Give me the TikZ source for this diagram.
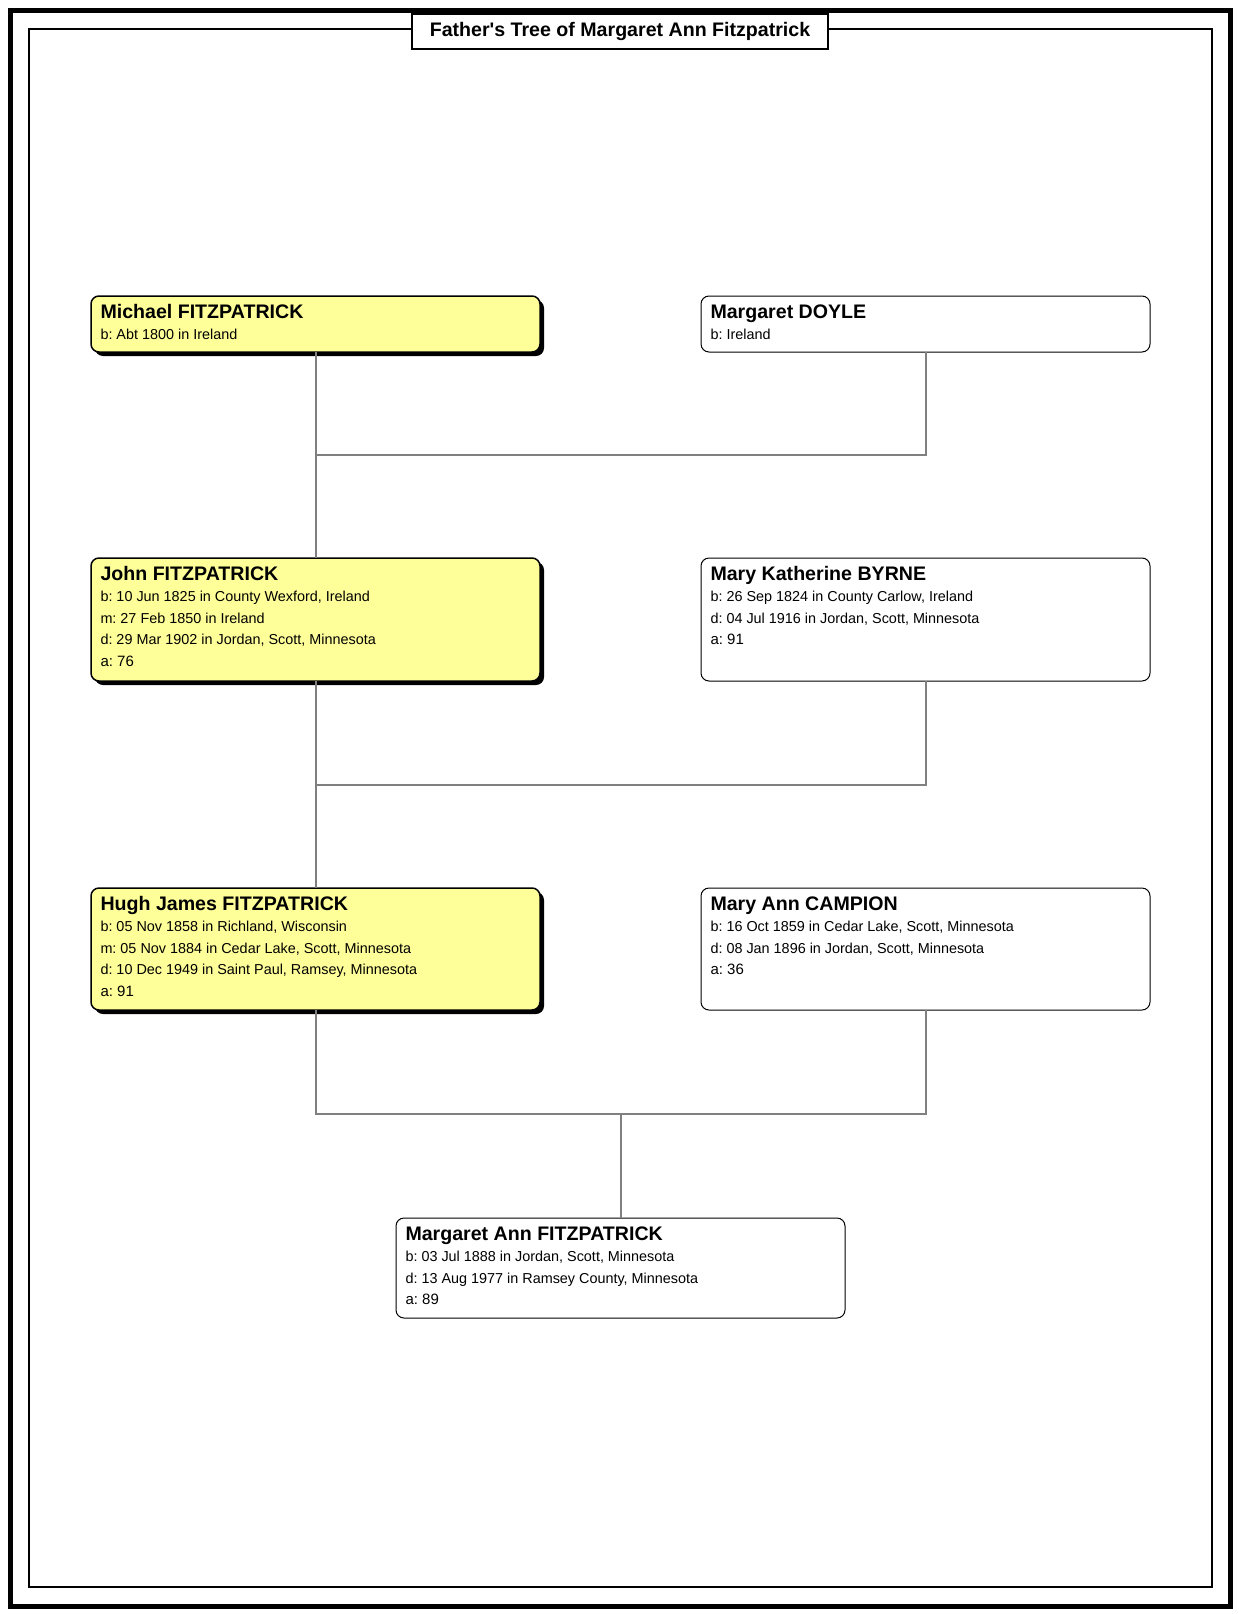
\documentclass[tikz,border=0pt]{standalone}
\usepackage{fontspec}
\setmainfont{Liberation Sans}
\usetikzlibrary{calc,positioning,shadows}

\definecolor{ftyellow}{RGB}{255,255,153}
\definecolor{ftgray}{RGB}{128,128,128}

\newcommand{\namefont}{\fontsize{19.6}{22}\selectfont\bfseries}
\newcommand{\factfont}{\fontsize{14.4}{21.5}\selectfont}
\newcommand{\agefont}{\fontsize{15}{21.5}\selectfont}
\newcommand{\age}[1]{{\agefont a: #1}}
% fixed height box: name on the first line, facts below
\newcommand{\personbox}[3]{\parbox[t][#1pt][t]{430pt}{\frenchspacing\rule{0pt}{22pt}{\namefont #2}\\\factfont #3}}

\begin{document}
\begin{tikzpicture}[x=1pt, y=-1pt]
    \tikzstyle{person} = [draw, rectangle, rounded corners=8pt, inner xsep=9.5pt, inner ysep=0pt, outer sep=0pt, line width=1pt]
    \tikzstyle{father} = [person, fill=ftyellow, line width=1.5pt, drop shadow={shadow xshift=4pt, shadow yshift=-4pt, fill=black, opacity=1}]
    \tikzstyle{mother} = [person, fill=white]
    \tikzstyle{link} = [draw=ftgray, line width=2pt]

    \useasboundingbox[fill=white] (0,0) rectangle (1239,1614);
    \draw[line width=5pt] (10.5,10.5) rectangle (1230.5,1606.5);
    \draw[line width=2pt] (29,29) rectangle (1212,1587);
    \node[draw, fill=white, line width=2pt, minimum width=416pt, minimum height=35pt, inner sep=0pt] (title) at (620,31.5) {\namefont Father\textquotesingle s Tree of Margaret Ann Fitzpatrick};

    \node[father, anchor=north west] (michael) at (91,296) {\personbox{56}{Michael FITZPATRICK}{b: Abt 1800 in Ireland}};
    \node[mother, right=161pt of michael] (doyle) {\personbox{56}{Margaret DOYLE}{b: Ireland}};

    \node[father, below=206pt of michael] (john) {\personbox{123}{John FITZPATRICK}{b: 10 Jun 1825 in County Wexford, Ireland\\m: 27 Feb 1850 in Ireland\\d: 29 Mar 1902 in Jordan, Scott, Minnesota\\\age{76}}};
    \node[mother, right=161pt of john] (byrne) {\personbox{123}{Mary Katherine BYRNE}{b: 26 Sep 1824 in County Carlow, Ireland\\d: 04 Jul 1916 in Jordan, Scott, Minnesota\\\age{91}}};

    \node[father, below=207pt of john] (hugh) {\personbox{122}{Hugh James FITZPATRICK}{b: 05 Nov 1858 in Richland, Wisconsin\\m: 05 Nov 1884 in Cedar Lake, Scott, Minnesota\\d: 10 Dec 1949 in Saint Paul, Ramsey, Minnesota\\\age{91}}};
    \node[mother, right=161pt of hugh] (campion) {\personbox{122}{Mary Ann CAMPION}{b: 16 Oct 1859 in Cedar Lake, Scott, Minnesota\\d: 08 Jan 1896 in Jordan, Scott, Minnesota\\\age{36}}};

    \coordinate (couple3) at ($(hugh.south)!0.5!(campion.south)$);
    \node[mother, below=208pt of couple3] (margaret) {\personbox{100}{Margaret Ann FITZPATRICK}{b: 03 Jul 1888 in Jordan, Scott, Minnesota\\d: 13 Aug 1977 in Ramsey County, Minnesota\\\age{89}}};

    \coordinate (c1) at ($(michael.south)!0.5!(john.north)$);
    \coordinate (c2) at ($(john.south)!0.5!(hugh.north)$);
    \coordinate (c3) at ($(couple3)!0.5!(margaret.north)$);

    \draw[link] (michael.south) -- (john.north);
    \draw[link] (doyle.south) |- (c1);
    \draw[link] (john.south) -- (hugh.north);
    \draw[link] (byrne.south) |- (c2);
    \draw[link] (hugh.south) |- (c3) -| (campion.south);
    \draw[link] (c3) -- (margaret.north);
\end{tikzpicture}
\end{document}
